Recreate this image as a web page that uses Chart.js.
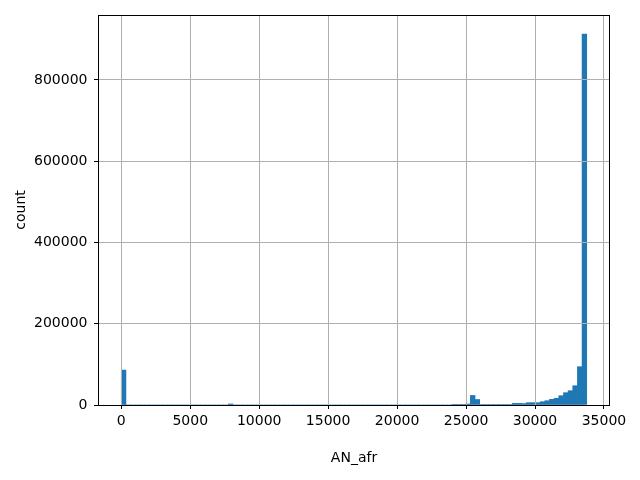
<!DOCTYPE html>
<html><head><meta charset="utf-8">
<script src="https://cdn.jsdelivr.net/npm/chart.js@4"></script>
<style>html,body{margin:0;padding:0;background:#fff}</style>
</head><body>
<canvas id="c" width="640" height="480"></canvas>
<script>
const binStart = 0;
const binWidth = 337.5;
const counts = [
  86000,0,0,0,0,0,0,0,0,0,
  0,0,0,0,0,0,0,0,0,0,
  0,0,0,2500,0,0,0,0,0,0,
  0,0,0,0,0,0,0,0,0,0,
  0,0,0,0,0,0,0,0,0,0,
  0,0,0,0,0,0,0,0,0,0,
  0,0,0,0,0,0,0,0,0,0,
  0,1500,1500,1500,2500,23500,13500,1200,1200,1200,
  1200,1200,1200,1200,4000,4000,3500,5700,5700,5700,
  8100,10600,14000,16500,22900,30300,35200,47500,94300,913000
];
const xTicks = [0,5000,10000,15000,20000,25000,30000,35000];
const yTicks = [0,200000,400000,600000,800000];
const xLabel = 'AN_afr';
const yLabel = 'count';

Chart.defaults.font.family = 'DejaVu Sans';
Chart.defaults.font.size = 14;
Chart.defaults.color = '#000';

const frame = {
  id: 'frame',
  afterDraw(chart) {
    const {ctx, chartArea: a} = chart;
    ctx.save();
    ctx.strokeStyle = '#000';
    ctx.lineWidth = 1;
    ctx.strokeRect(Math.round(a.left) + 0.5, Math.round(a.top) + 0.5,
                   Math.round(a.right - a.left) - 1, Math.round(a.bottom - a.top));
    ctx.restore();
  }
};

const gridOpts = {color: '#b0b0b0', lineWidth: 1, tickColor: '#000', tickLength: 4, tickWidth: 1, z: 1, offset: false};

new Chart(document.getElementById('c'), {
  type: 'bar',
  data: {
    datasets: [{
      data: counts.map((y, i) => ({x: binStart + (i + 0.5) * binWidth, y})),
      backgroundColor: '#1f77b4',
      borderWidth: 0,
      barPercentage: 1,
      categoryPercentage: 1
    }]
  },
  options: {
    responsive: false,
    animation: false,
    devicePixelRatio: 1,
    layout: {padding: {top: 15, right: 30, left: 0, bottom: 0}},
    plugins: {legend: {display: false}, tooltip: {enabled: false}},
    scales: {
      x: {
        type: 'linear',
        offset: false,
        min: -1687.5,
        max: 35437.5,
        grid: gridOpts,
        border: {display: false},
        afterBuildTicks: s => { s.ticks = xTicks.map(v => ({value: v})); },
        afterFit: s => { s.height = 75; },
        ticks: {padding: 4, maxRotation: 0, autoSkip: false, callback: v => String(v)},
        title: {display: true, text: xLabel, font: {size: 14}, padding: {top: 0, bottom: 13}}
      },
      y: {
        type: 'linear',
        min: 0,
        max: 960000,
        grid: gridOpts,
        border: {display: false},
        afterBuildTicks: s => { s.ticks = yTicks.map(v => ({value: v})); },
        afterFit: s => { s.width = 98; },
        ticks: {padding: 6.5, autoSkip: false, callback: v => String(v)},
        title: {display: true, text: yLabel, font: {size: 14}, padding: {top: 13, bottom: 0}}
      }
    }
  },
  plugins: [frame]
});
</script>
</body></html>
